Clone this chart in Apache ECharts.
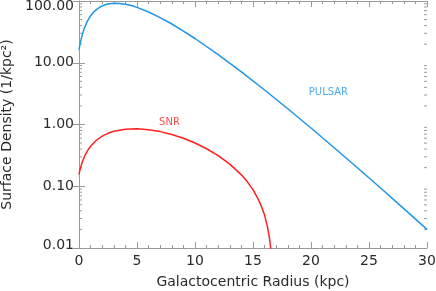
<!DOCTYPE html>
<html>
<head>
<meta charset="utf-8">
<script src="https://cdn.jsdelivr.net/npm/echarts@6/dist/echarts.min.js"></script>
<style>html,body{margin:0;padding:0;background:#fff}#c{width:436px;height:291px}</style>
</head>
<body>
<div id="c"></div>
<script>
// Pulsar surface density (1/kpc^2) vs galactocentric radius (kpc)
var pulsarRadius = [0,0.1,0.25,0.375,0.5,0.625,0.75,1,1.25,1.5,1.75,2,2.25,2.5,3,3.5,4,4.5,5,6,7,8,9,10,12,14,16,18,20,22,24,26,28,30];
var pulsarDensity = [16.3,20.5,27.0,32.4,37.8,42.9,48.0,57.3,65.6,72.6,78.5,83.2,86.8,89.4,91.9,91.4,88.7,84.3,78.9,66.4,53.8,42.4,32.6,24.7,13.5,7.10,3.62,1.80,0.877,0.421,0.199,0.0935,0.0434,0.0200];
// SNR surface density
var snrRadius = [0,0.1,0.25,0.5,0.75,1,1.5,2,2.5,3,4,5,6,7,8,9,10,11,12,13,14,14.5,15,15.5,15.75,16,16.25,16.4,16.5,16.55,16.6];
var snrDensity = [0.156,0.189,0.237,0.312,0.381,0.445,0.556,0.648,0.720,0.776,0.840,0.853,0.825,0.767,0.689,0.598,0.502,0.405,0.313,0.228,0.153,0.119,0.088,0.059,0.046,0.034,0.022,0.0153,0.011,0.0088,0.0067];
// Series labels [radius, density]
var pulsarLabelAt = [21.5, 3.3];
var snrLabelAt = [7.8, 1.1];
// Log-axis minor tick values
var logMinorTicks = [];
[0.01,0.1,1,10].forEach(function(d){for(var k=2;k<=9;k++){logMinorTicks.push(+(d*k).toPrecision(3));}});

var BLUE = '#1f95e6', RED = '#ff1f1f', AX = '#9a9a9a', TXT = '#2a2a2a';
var FONT = 'DejaVu Sans';

function zip(a,b){return a.map(function(v,i){return [v,b[i]];});}

var xBase = {
  type:'value', min:0, max:30, interval:5,
  axisLine:{show:true, lineStyle:{color:AX,width:1}},
  axisTick:{show:true, inside:true, length:6, lineStyle:{color:AX}},
  minorTick:{show:true, splitNumber:5, length:3, lineStyle:{color:AX}},
  splitLine:{show:false}, minorSplitLine:{show:false}
};
var yBase = {
  type:'log', logBase:10, min:0.01, max:100,
  axisLine:{show:true, lineStyle:{color:AX,width:1}},
  axisTick:{show:true, inside:true, length:6, lineStyle:{color:AX}},
  splitLine:{show:false}
};

var chart = echarts.init(document.getElementById('c'), null, {renderer:'canvas'});
chart.setOption({
  animation:false,
  backgroundColor:'#fff',
  grid:{left:79, right:9, top:1, bottom:43, containLabel:false, outerBoundsMode:'none'},
  xAxis:[
    Object.assign({}, xBase, {
      position:'bottom',
      name:'Galactocentric Radius (kpc)', nameLocation:'middle', nameGap:27,
      nameTextStyle:{fontFamily:FONT, fontSize:14, color:TXT},
      axisLabel:{show:true, margin:6, fontFamily:FONT, fontSize:14, color:TXT}
    }),
    Object.assign({}, xBase, {position:'top', axisLabel:{show:false}})
  ],
  yAxis:[
    Object.assign({}, yBase, {
      position:'left',
      name:'Surface Density (1/kpc²)', nameLocation:'middle', nameGap:61,
      nameTextStyle:{fontFamily:FONT, fontSize:14, color:TXT},
      axisLabel:{show:true, margin:5, fontFamily:FONT, fontSize:14, color:TXT,
        formatter:function(v){
          var s = Number(v).toFixed(2);
          if (v >= 100) return '{top|' + s + '}';
          if (v <= 0.01) return '{bot|' + s + '}';
          return s;
        },
        rich:{
          top:{fontFamily:FONT, fontSize:14, color:TXT, padding:[10,0,0,0]},
          bot:{fontFamily:FONT, fontSize:14, color:TXT, padding:[0,0,5,0]}
        }}
    }),
    Object.assign({}, yBase, {position:'right', axisLabel:{show:false}})
  ],
  series:[
    {
      type:'line', name:'PULSAR', xAxisIndex:0, yAxisIndex:0,
      data:zip(pulsarRadius, pulsarDensity), showSymbol:false, symbol:'none',
      smooth:false, clip:true,
      lineStyle:{color:BLUE, width:1.5}
    },
    {
      type:'line', name:'SNR', xAxisIndex:0, yAxisIndex:0,
      data:zip(snrRadius, snrDensity), showSymbol:false, symbol:'none',
      smooth:false, clip:true,
      lineStyle:{color:RED, width:1.5}
    },
    {
      type:'scatter', xAxisIndex:0, yAxisIndex:0, silent:true,
      symbolSize:1, itemStyle:{color:'rgba(0,0,0,0)'},
      data:[
        {value:pulsarLabelAt, label:{show:true, position:'inside', formatter:'PULSAR', color:BLUE, fontFamily:FONT, fontSize:10}},
        {value:snrLabelAt, label:{show:true, position:'inside', formatter:'SNR', color:RED, fontFamily:FONT, fontSize:10}}
      ]
    },
    {
      type:'custom', xAxisIndex:0, yAxisIndex:0, silent:true, clip:false,
      data:logMinorTicks.map(function(v){return [0, v];}),
      renderItem:function(params, api){
        var v = api.value(1);
        var pl = api.coord([0, v]);
        var pr = api.coord([30, v]);
        return {type:'group', children:[
          {type:'line', shape:{x1:pl[0], y1:pl[1], x2:pl[0]+3, y2:pl[1]}, style:{stroke:AX, lineWidth:1}},
          {type:'line', shape:{x1:pr[0]-3, y1:pr[1], x2:pr[0], y2:pr[1]}, style:{stroke:AX, lineWidth:1}}
        ]};
      }
    }
  ]
});
</script>
</body>
</html>
